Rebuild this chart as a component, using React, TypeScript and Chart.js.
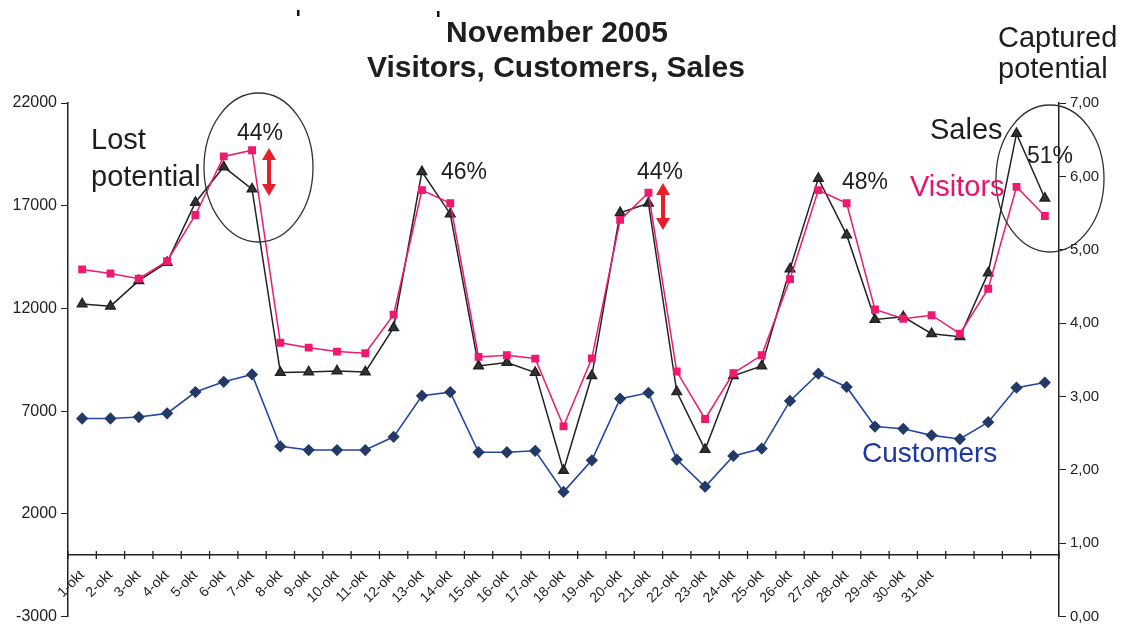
import React, { useEffect, useRef } from 'react';
import { Chart, registerables } from 'chart.js';

Chart.register(...registerables);

const days = [
  '1-okt', '2-okt', '3-okt', '4-okt', '5-okt', '6-okt', '7-okt', '8-okt', '9-okt', '10-okt',
  '11-okt', '12-okt', '13-okt', '14-okt', '15-okt', '16-okt', '17-okt', '18-okt', '19-okt', '20-okt',
  '21-okt', '22-okt', '23-okt', '24-okt', '25-okt', '26-okt', '27-okt', '28-okt', '29-okt', '30-okt',
  '31-okt', '', '', '', '',
];

const visitors = [
  13900, 13700, 13450, 14300, 16550, 19400, 19700, 10330, 10090, 9900,
  9820, 11700, 17760, 17120, 9640, 9720, 9560, 6260, 9570, 16310,
  17630, 8930, 6620, 8850, 9720, 13430, 17760, 17120, 11950, 11500,
  11670, 10770, 12960, 17920, 16500,
];

const sales = [
  12220, 12110, 13350, 14240, 17160, 18890, 17810, 8880, 8910, 8960,
  8910, 11060, 18650, 16600, 9200, 9370, 8880, 4110, 8720, 16660,
  17120, 7940, 5130, 8720, 9200, 13920, 18330, 15580, 11460, 11590,
  10770, 10620, 13730, 20510, 17360,
];

const customers = [
  2.70, 2.70, 2.72, 2.77, 3.06, 3.20, 3.30, 2.32, 2.27, 2.27,
  2.27, 2.45, 3.01, 3.06, 2.24, 2.24, 2.26, 1.70, 2.13, 2.97,
  3.05, 2.14, 1.77, 2.19, 2.29, 2.94, 3.31, 3.13, 2.59, 2.56,
  2.47, 2.42, 2.65, 3.12, 3.19,
];

const leftTicks = [-3000, 2000, 7000, 12000, 17000, 22000];
const rightTicks = [0, 1, 2, 3, 4, 5, 6, 7];

const FONT = '"Liberation Sans", Arial, sans-serif';

const drawArrow = (ctx: CanvasRenderingContext2D, x: number, y1: number, y2: number) => {
  const hw = 7;
  const hh = 12;
  ctx.fillStyle = '#e5202a';
  ctx.beginPath();
  ctx.moveTo(x, y1);
  ctx.lineTo(x + hw, y1 + hh);
  ctx.lineTo(x + 2, y1 + hh);
  ctx.lineTo(x + 2, y2 - hh);
  ctx.lineTo(x + hw, y2 - hh);
  ctx.lineTo(x, y2);
  ctx.lineTo(x - hw, y2 - hh);
  ctx.lineTo(x - 2, y2 - hh);
  ctx.lineTo(x - 2, y1 + hh);
  ctx.lineTo(x - hw, y1 + hh);
  ctx.closePath();
  ctx.fill();
};

const annotations = {
  id: 'annotations',
  afterDraw(chart: any) {
    const ctx: CanvasRenderingContext2D = chart.ctx;
    ctx.save();
    ctx.textBaseline = 'alphabetic';

    // title
    ctx.fillStyle = '#1e1e1e';
    ctx.textAlign = 'center';
    ctx.font = `bold 30px ${FONT}`;
    ctx.fillText('November 2005', 557, 42);
    ctx.fillText('Visitors, Customers, Sales', 556, 77);

    // small scan marks
    ctx.fillStyle = '#111';
    ctx.fillRect(297, 10, 2.5, 6);
    ctx.fillRect(437, 11, 2.5, 6);

    // x-axis tick marks crossing the axis line
    const xs = chart.scales.x;
    const ys = chart.scales.y;
    const y0 = ys.getPixelForValue(0);
    const step = xs.getPixelForValue(1) - xs.getPixelForValue(0);
    ctx.strokeStyle = '#222';
    ctx.lineWidth = 1.3;
    for (let i = 0; i <= days.length; i++) {
      const px = xs.getPixelForValue(i) - step / 2;
      ctx.beginPath();
      ctx.moveTo(px, y0 - 4);
      ctx.lineTo(px, y0 + 4);
      ctx.stroke();
    }

    // ellipses
    ctx.strokeStyle = '#333';
    ctx.lineWidth = 1.3;
    ctx.beginPath();
    ctx.ellipse(258.5, 167.5, 54.5, 74.5, 0, 0, Math.PI * 2);
    ctx.stroke();
    ctx.beginPath();
    ctx.ellipse(1050, 178.5, 54, 73.5, 0, 0, Math.PI * 2);
    ctx.stroke();

    // labels
    ctx.fillStyle = '#1e1e1e';
    ctx.textAlign = 'left';
    ctx.font = `29px ${FONT}`;
    ctx.fillText('Lost', 91, 149);
    ctx.fillText('potential', 91, 186);
    ctx.fillText('Sales', 930, 139);
    ctx.fillText('Captured', 998, 47);
    ctx.fillText('potential', 998, 78);

    ctx.textAlign = 'center';
    ctx.font = `23px ${FONT}`;
    ctx.fillText('44%', 260, 140);
    ctx.fillText('46%', 464, 179);
    ctx.fillText('44%', 660, 179);
    ctx.fillText('48%', 865, 189);
    ctx.fillText('51%', 1050, 163);

    ctx.textAlign = 'left';
    ctx.font = `29px ${FONT}`;
    ctx.fillStyle = '#e8146c';
    ctx.fillText('Visitors', 910, 196);
    ctx.font = `28px ${FONT}`;
    ctx.fillStyle = '#1b37a0';
    ctx.fillText('Customers', 862, 462);

    drawArrow(ctx, 269, 148, 196);
    drawArrow(ctx, 663, 183, 230);

    ctx.restore();
  },
};

export default function App() {
  const ref = useRef<HTMLCanvasElement | null>(null);

  useEffect(() => {
    document.body.style.margin = '0';
    document.body.style.background = '#fff';
    if (!ref.current) return;
    const chart = new Chart(ref.current, {
      type: 'line',
      data: {
        labels: days,
        datasets: [
          {
            label: 'Customers',
            data: customers,
            yAxisID: 'y1',
            borderColor: '#2347a8',
            backgroundColor: '#243a66',
            pointBackgroundColor: '#243a66',
            pointBorderColor: '#243a66',
            pointStyle: 'rectRot',
            pointRadius: 5,
            borderWidth: 1.6,
            tension: 0,
          },
          {
            label: 'Visitors',
            data: visitors,
            yAxisID: 'y',
            borderColor: '#ee1a6e',
            backgroundColor: '#ee1a6e',
            pointBackgroundColor: '#ee1a6e',
            pointBorderColor: '#ee1a6e',
            pointStyle: 'rect',
            pointRadius: 4.5,
            borderWidth: 1.5,
            tension: 0,
          },
          {
            label: 'Sales',
            data: sales,
            yAxisID: 'y',
            borderColor: '#222',
            backgroundColor: '#333',
            pointBackgroundColor: '#333',
            pointBorderColor: '#222',
            pointStyle: 'triangle',
            pointRadius: 5.5,
            borderWidth: 1.5,
            tension: 0,
          },
        ],
      },
      options: {
        animation: false,
        responsive: false,
        layout: { padding: { top: 103, bottom: 10, left: 0, right: 0 } },
        plugins: {
          legend: { display: false },
          title: { display: false },
          tooltip: { enabled: false },
        },
        scales: {
          x: {
            type: 'category',
            position: { y: 0 } as any,
            offset: true,
            grid: {
              offset: true,
              drawOnChartArea: false,
              drawTicks: false,
              tickLength: 5,
              color: '#222',
            },
            border: { display: true, color: '#222', width: 1.5 },
            ticks: {
              autoSkip: false,
              minRotation: 45,
              maxRotation: 45,
              color: '#222',
              font: { family: FONT, size: 14 },
              padding: 12,
            },
          },
          y: {
            type: 'linear',
            position: 'left',
            min: -3000,
            max: 22000,
            afterBuildTicks: (scale: any) => {
              scale.ticks = leftTicks.map((v) => ({ value: v }));
            },
            afterFit: (scale: any) => {
              scale.width = 68;
            },
            grid: {
              drawOnChartArea: false,
              tickLength: 7,
              color: '#222',
            },
            border: { display: true, color: '#222', width: 1.5 },
            ticks: {
              color: '#222',
              font: { family: FONT, size: 16, lineHeight: 0.8 },
              padding: 4,
              callback: (v: any) => String(v),
            },
          },
          y1: {
            type: 'linear',
            position: 'right',
            min: 0,
            max: 7,
            afterBuildTicks: (scale: any) => {
              scale.ticks = rightTicks.map((v) => ({ value: v }));
            },
            afterFit: (scale: any) => {
              scale.width = 80;
            },
            grid: {
              drawOnChartArea: false,
              tickLength: 7,
              color: '#222',
            },
            border: { display: true, color: '#222', width: 1.5 },
            ticks: {
              color: '#222',
              font: { family: FONT, size: 15, lineHeight: 0.8 },
              padding: 4,
              callback: (v: any) => Number(v).toFixed(2).replace('.', ','),
            },
          },
        },
      },
      plugins: [annotations],
    });
    return () => chart.destroy();
  }, []);

  return (
    <div style={{ width: 1139, height: 627, background: '#fff' }}>
      <canvas ref={ref} width={1139} height={627} style={{ display: 'block' }} />
    </div>
  );
}
